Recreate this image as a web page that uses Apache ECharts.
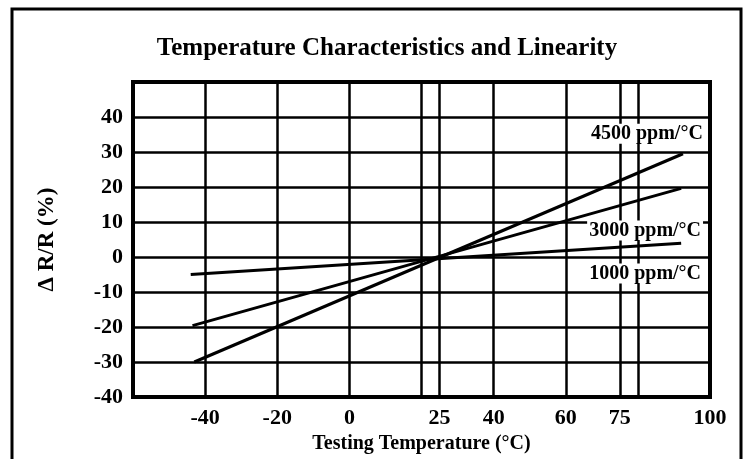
<!DOCTYPE html>
<html>
<head>
<meta charset="utf-8">
<script src="https://cdn.jsdelivr.net/npm/echarts@6/dist/echarts.min.js"></script>
<style>
  html, body { margin: 0; padding: 0; background: #fff; }
  #chart { width: 744px; height: 459px; }
</style>
</head>
<body>
<div id="chart"></div>
<script>
// temperature (°C) -> delta R/R (%)
var line4500 = [[-43, -30], [92.5, 29.5]];
var line3000 = [[-43.5, -19.6], [92, 19.6]];
var line1000 = [[-44, -5], [92, 3.9]];

var xLabels = [-40, -20, 0, 25, 40, 60, 75, 100];
var xGrid = [-40, -20, 0, 20, 25, 40, 60, 75, 80];
var yLabels = [-40, -30, -20, -10, 0, 10, 20, 30, 40];

var tagNames = ['4500 ppm/°C', '3000 ppm/°C', '1000 ppm/°C'];
var tagPos = [[82.5, 35.2], [82, 7.6], [82, -4.7]];

var serif = '"Liberation Serif", "DejaVu Serif", serif';

var myChart = echarts.init(document.getElementById('chart'));

function lineSeries(name, data) {
    return {
        name: name,
        type: 'line',
        data: data,
        symbol: 'none',
        lineStyle: { color: '#000', width: 3 },
        z: 5
    };
}

var option = {
    backgroundColor: '#fff',
    animation: false,
    title: {
        text: 'Temperature Characteristics and Linearity',
        left: 382,
        textAlign: 'center',
        top: 31,
        textStyle: { fontFamily: serif, fontWeight: 'bold', fontSize: 25, color: '#000' }
    },
    graphic: [{
        type: 'rect',
        shape: { x: 12, y: 9, width: 729, height: 470 },
        style: { fill: 'none', stroke: '#000', lineWidth: 3 }
    }],
    grid: {
        left: 133,
        right: 34,
        top: 82,
        bottom: 56,
        show: true,
        borderColor: '#000',
        borderWidth: 4,
        backgroundColor: 'transparent'
    },
    xAxis: {
        type: 'value',
        min: -60,
        max: 100,
        interval: 5,
        axisLine: { show: false },
        axisTick: { show: false },
        splitLine: { show: false },
        axisLabel: {
            margin: 10,
            fontFamily: serif,
            fontWeight: 'bold',
            fontSize: 22,
            color: '#000',
            showMinLabel: true,
            showMaxLabel: true,
            formatter: function (v) {
                return xLabels.indexOf(v) >= 0 ? String(v) : '';
            }
        },
        name: 'Testing Temperature (°C)',
        nameLocation: 'middle',
        nameGap: 37,
        nameTextStyle: { fontFamily: serif, fontWeight: 'bold', fontSize: 20, color: '#000' }
    },
    yAxis: {
        type: 'value',
        min: -40,
        max: 50,
        interval: 10,
        axisLine: { show: false },
        axisTick: { show: false },
        splitLine: { show: true, lineStyle: { color: '#000', width: 2.5 } },
        axisLabel: {
            margin: 10,
            fontFamily: serif,
            fontWeight: 'bold',
            fontSize: 22,
            color: '#000',
            formatter: function (v) {
                return yLabels.indexOf(v) >= 0 ? String(v) : '';
            }
        },
        name: 'Δ R/R (%)',
        nameLocation: 'middle',
        nameGap: 74,
        nameTextStyle: { fontFamily: serif, fontWeight: 'bold', fontSize: 23, color: '#000' }
    },
    series: [
        {
            type: 'line',
            data: [],
            markLine: {
                silent: true,
                symbol: 'none',
                label: { show: false },
                lineStyle: { color: '#000', width: 2.5, type: 'solid' },
                data: xGrid.map(function (v) { return { xAxis: v }; })
            },
            z: 1
        },
        lineSeries('4500', line4500),
        lineSeries('3000', line3000),
        lineSeries('1000', line1000),
        {
            type: 'scatter',
            symbolSize: 0,
            z: 10,
            itemStyle: { color: '#fff', opacity: 1 },
            data: tagPos.map(function (p, i) {
                return { value: p, name: tagNames[i] };
            }),
            label: {
                show: true,
                position: 'inside',
                formatter: '{b}',
                fontFamily: serif,
                fontWeight: 'bold',
                fontSize: 20,
                color: '#000',
                opacity: 1,
                textBorderWidth: 0,
                textBorderColor: 'transparent',
                backgroundColor: '#fff',
                padding: [0, 2]
            }
        }
    ]
};
myChart.setOption(option);
</script>
</body>
</html>
